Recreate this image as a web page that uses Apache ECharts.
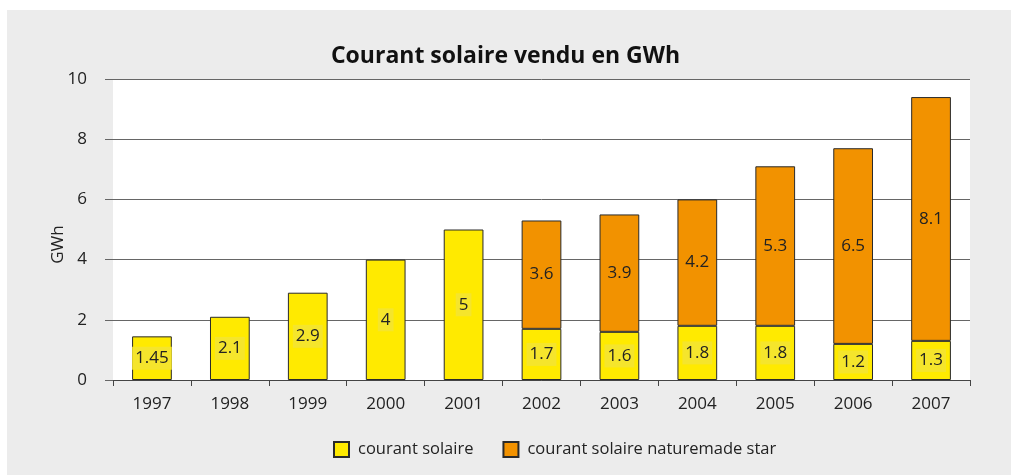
<!DOCTYPE html>
<html><head><meta charset="utf-8">
<script src="https://cdn.jsdelivr.net/npm/echarts@6/dist/echarts.min.js"></script>
<style>
html,body{margin:0;padding:0;background:#fff;}
#bg{position:absolute;left:7px;top:10px;width:1004px;height:465px;background:#ececec;}
#c{position:absolute;left:0;top:0;width:1011px;height:475px;}
</style></head><body>
<div id="bg"></div>
<div id="c"></div>
<script>
const years = ['1997','1998','1999','2000','2001','2002','2003','2004','2005','2006','2007'];
const courantSolaire = [1.45, 2.1, 2.9, 4, 5, 1.7, 1.6, 1.8, 1.8, 1.2, 1.3];
const naturemadeStar = [null, null, null, null, null, 3.6, 3.9, 4.2, 5.3, 6.5, 8.1];
const seriesNames = ['courant solaire', 'courant solaire naturemade star'];
const yTicks = [0, 2, 4, 6, 8, 10];

const FONT = 'Open Sans';
const FS = 17;
const chart = echarts.init(document.getElementById('c'));
chart.setOption({
  backgroundColor: 'transparent',
  animation: false,
  textStyle: { fontFamily: FONT, color: '#222' },
  title: {
    text: 'Courant solaire vendu en GWh',
    left: 'center', top: 40,
    textStyle: { fontFamily: FONT, fontSize: 23, fontWeight: 'bold', color: '#111' }
  },
  grid: {
    left: 113, right: 41, top: 79, bottom: 95,
    show: true, backgroundColor: '#fff', borderWidth: 0
  },
  legend: {
    top: 436, left: 328,
    itemWidth: 15, itemHeight: 15, itemGap: 29,
    textStyle: { fontFamily: FONT, fontSize: 16.5, color: '#222', padding: [0, 0, 0, 4] },
    data: seriesNames.map(n => ({ name: n, icon: 'rect' }))
  },
  xAxis: {
    type: 'category', data: years,
    axisLine: { lineStyle: { color: '#444', width: 1 } },
    axisTick: { show: true, length: 6, lineStyle: { color: '#444' } },
    axisLabel: { fontFamily: FONT, fontSize: FS, color: '#222', margin: 16 }
  },
  yAxis: {
    type: 'value', min: 0, max: 10, interval: 2,
    name: 'GWh', nameLocation: 'middle', nameGap: 46, nameRotate: 90,
    nameMoveOverlap: false,
    nameTextStyle: { fontFamily: FONT, fontSize: FS, color: '#222', padding: [0, 30, 0, 0] },
    axisLine: { show: false },
    axisTick: { show: true, length: 8, lineStyle: { color: '#666' } },
    axisLabel: { fontFamily: FONT, fontSize: FS, color: '#222', margin: 26,
      formatter: v => yTicks.includes(v) ? String(v) : '' },
    splitLine: { lineStyle: { color: '#666', width: 1 } }
  },
  series: [
    {
      name: seriesNames[0], type: 'bar', stack: 's', data: courantSolaire,
      barWidth: '51%',
      itemStyle: { color: '#ffea00', borderColor: '#2a2a2a', borderWidth: 1 },
      label: { show: true, position: 'inside', fontFamily: FONT, fontSize: FS, color: '#222',
        backgroundColor: '#f5e52c', padding: [4, 3, 2, 3] }
    },
    {
      name: seriesNames[1], type: 'bar', stack: 's', data: naturemadeStar,
      barWidth: '51%',
      itemStyle: { color: '#f29200', borderColor: '#2a2a2a', borderWidth: 1 },
      label: { show: true, position: 'inside', fontFamily: FONT, fontSize: FS, color: '#222' }
    }
  ]
});
</script>
</body></html>
